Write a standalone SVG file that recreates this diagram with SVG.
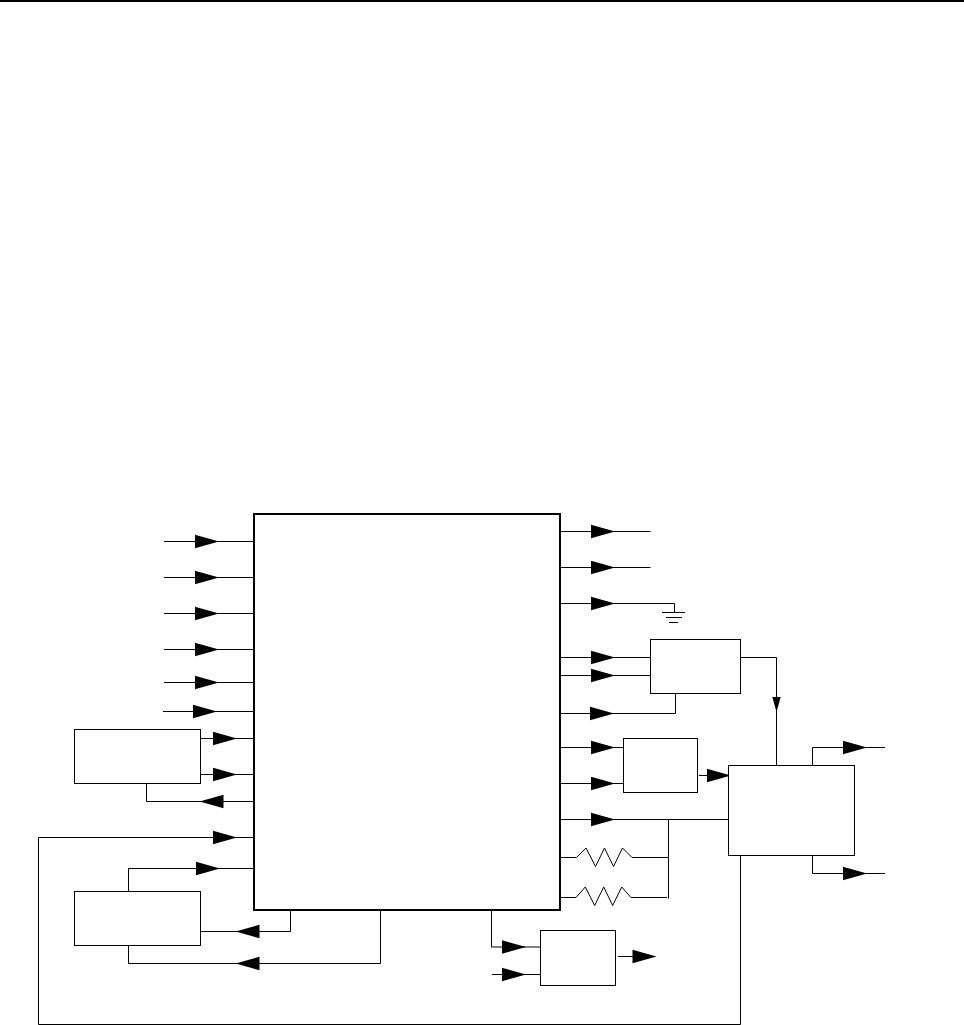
<svg xmlns="http://www.w3.org/2000/svg" width="964" height="1025" viewBox="0 0 964 1025">
<style>
.l{fill:none;stroke:#000;stroke-width:1}
.b{fill:#fff;stroke:#000;stroke-width:1}
.m{fill:#fff;stroke:#000;stroke-width:2}
.h{fill:#000;stroke:none}
</style>
<defs>
<path id="r" class="h" d="M0-6.800L24 0L0 6.800Z"/>
<path id="g" class="h" d="M0-6.800L-24 0L0 6.800Z"/>
</defs>
<rect width="964" height="1025" fill="#fff"/>
<g id="connectors">
<path d="M0 1H964" fill="none" stroke="#000" stroke-width="2"/>
<path class="l" d="M164 541.5H254M164 577.5H254M164 613.5H254M164 649.5H254M164 682.5H254M163 711.5H254"/>
<path class="l" d="M200.5 738.5H254M200.5 774.5H254M146.5 783.5V801.5H254M38.5 1024.5V837.5H254M38.5 1024.5H740.5V855.5M128.5 891.5V868.5H254"/>
<path class="l" d="M199.5 931.5H290.5V910M128.5 945.5V963.5H380.5V910"/>
<path class="l" d="M560 531.5H650.5M560 567.5H650.5M560 603.5H674.5V612M662 612.5H685M666 617.5H682M669 622.5H678"/>
<path class="l" d="M560 657.5H650.5M560 675.5H650.5M560 713.5H675.500V693.500M740.5 657.5H776.5V765.5"/>
<path class="l" d="M560 747.5H623.5M560 783.5H623.5M699 775.5H728.5M560 819.5H728.5M668.5 819.5V898.5"/>
<path class="l" d="M560 857.5H576.5L586 848L595.5 866.5L604.5 848L613.5 866.5L622.5 848L632 857.5H668.5"/>
<path class="l" d="M560 897.5H576L585.3 887L594.7 905.5L603.7 887L612.7 905.5L621.7 887L631 897.5H667"/>
<path class="l" d="M812.5 765.5V747.5H885M812.5 855.5V873.5H885"/>
<path class="l" d="M491.5 910V947H540.5M492 974.5H540.5M618 956.5H640"/>
<use href="#r" x="195" y="541.5"/><use href="#r" x="195" y="577.5"/><use href="#r" x="195" y="613.5"/><use href="#r" x="195" y="649.5"/><use href="#r" x="195" y="682.5"/><use href="#r" x="193" y="711.5"/>
<use href="#r" x="213" y="738.5"/><use href="#r" x="213" y="774.5"/><use href="#r" x="213" y="837.5"/><use href="#r" x="196" y="868.5"/>
<use href="#g" x="223.500" y="801.500"/>
<use href="#g" x="259.500" y="931.500"/>
<use href="#g" x="259.500" y="963.500"/>
<use href="#r" x="591" y="531.5"/><use href="#r" x="591" y="567.5"/><use href="#r" x="591" y="603.5"/><use href="#r" x="591" y="657.5"/><use href="#r" x="591" y="675.5"/><use href="#r" x="590" y="713.5"/>
<use href="#r" x="591" y="747.5"/><use href="#r" x="591" y="783.5"/><use href="#r" x="707" y="775.5"/><use href="#r" x="591" y="819.5"/>
<use href="#r" x="843" y="747.5"/><use href="#r" x="843" y="873.5"/>
<use href="#r" x="502" y="947"/><use href="#r" x="502" y="974.5"/><use href="#r" x="632.5" y="956.5"/>
<path class="h" d="M772.300 697H780.700L776.500 712Z"/>
</g>
<g id="main"><rect class="m" x="254" y="514" width="306" height="396"/></g>
<g id="box1"><rect class="b" x="74.500" y="729.500" width="126" height="54"/></g>
<g id="box2"><rect class="b" x="74.500" y="891.500" width="126" height="54"/></g>
<g id="box3"><rect class="b" x="650.500" y="639.500" width="90" height="54"/></g>
<g id="box4"><rect class="b" x="623.500" y="738.500" width="74" height="54"/></g>
<g id="box5"><rect class="b" x="728.500" y="765.500" width="126" height="90"/></g>
<g id="box6"><rect class="b" x="540.500" y="930.500" width="75" height="55"/></g>
</svg>
